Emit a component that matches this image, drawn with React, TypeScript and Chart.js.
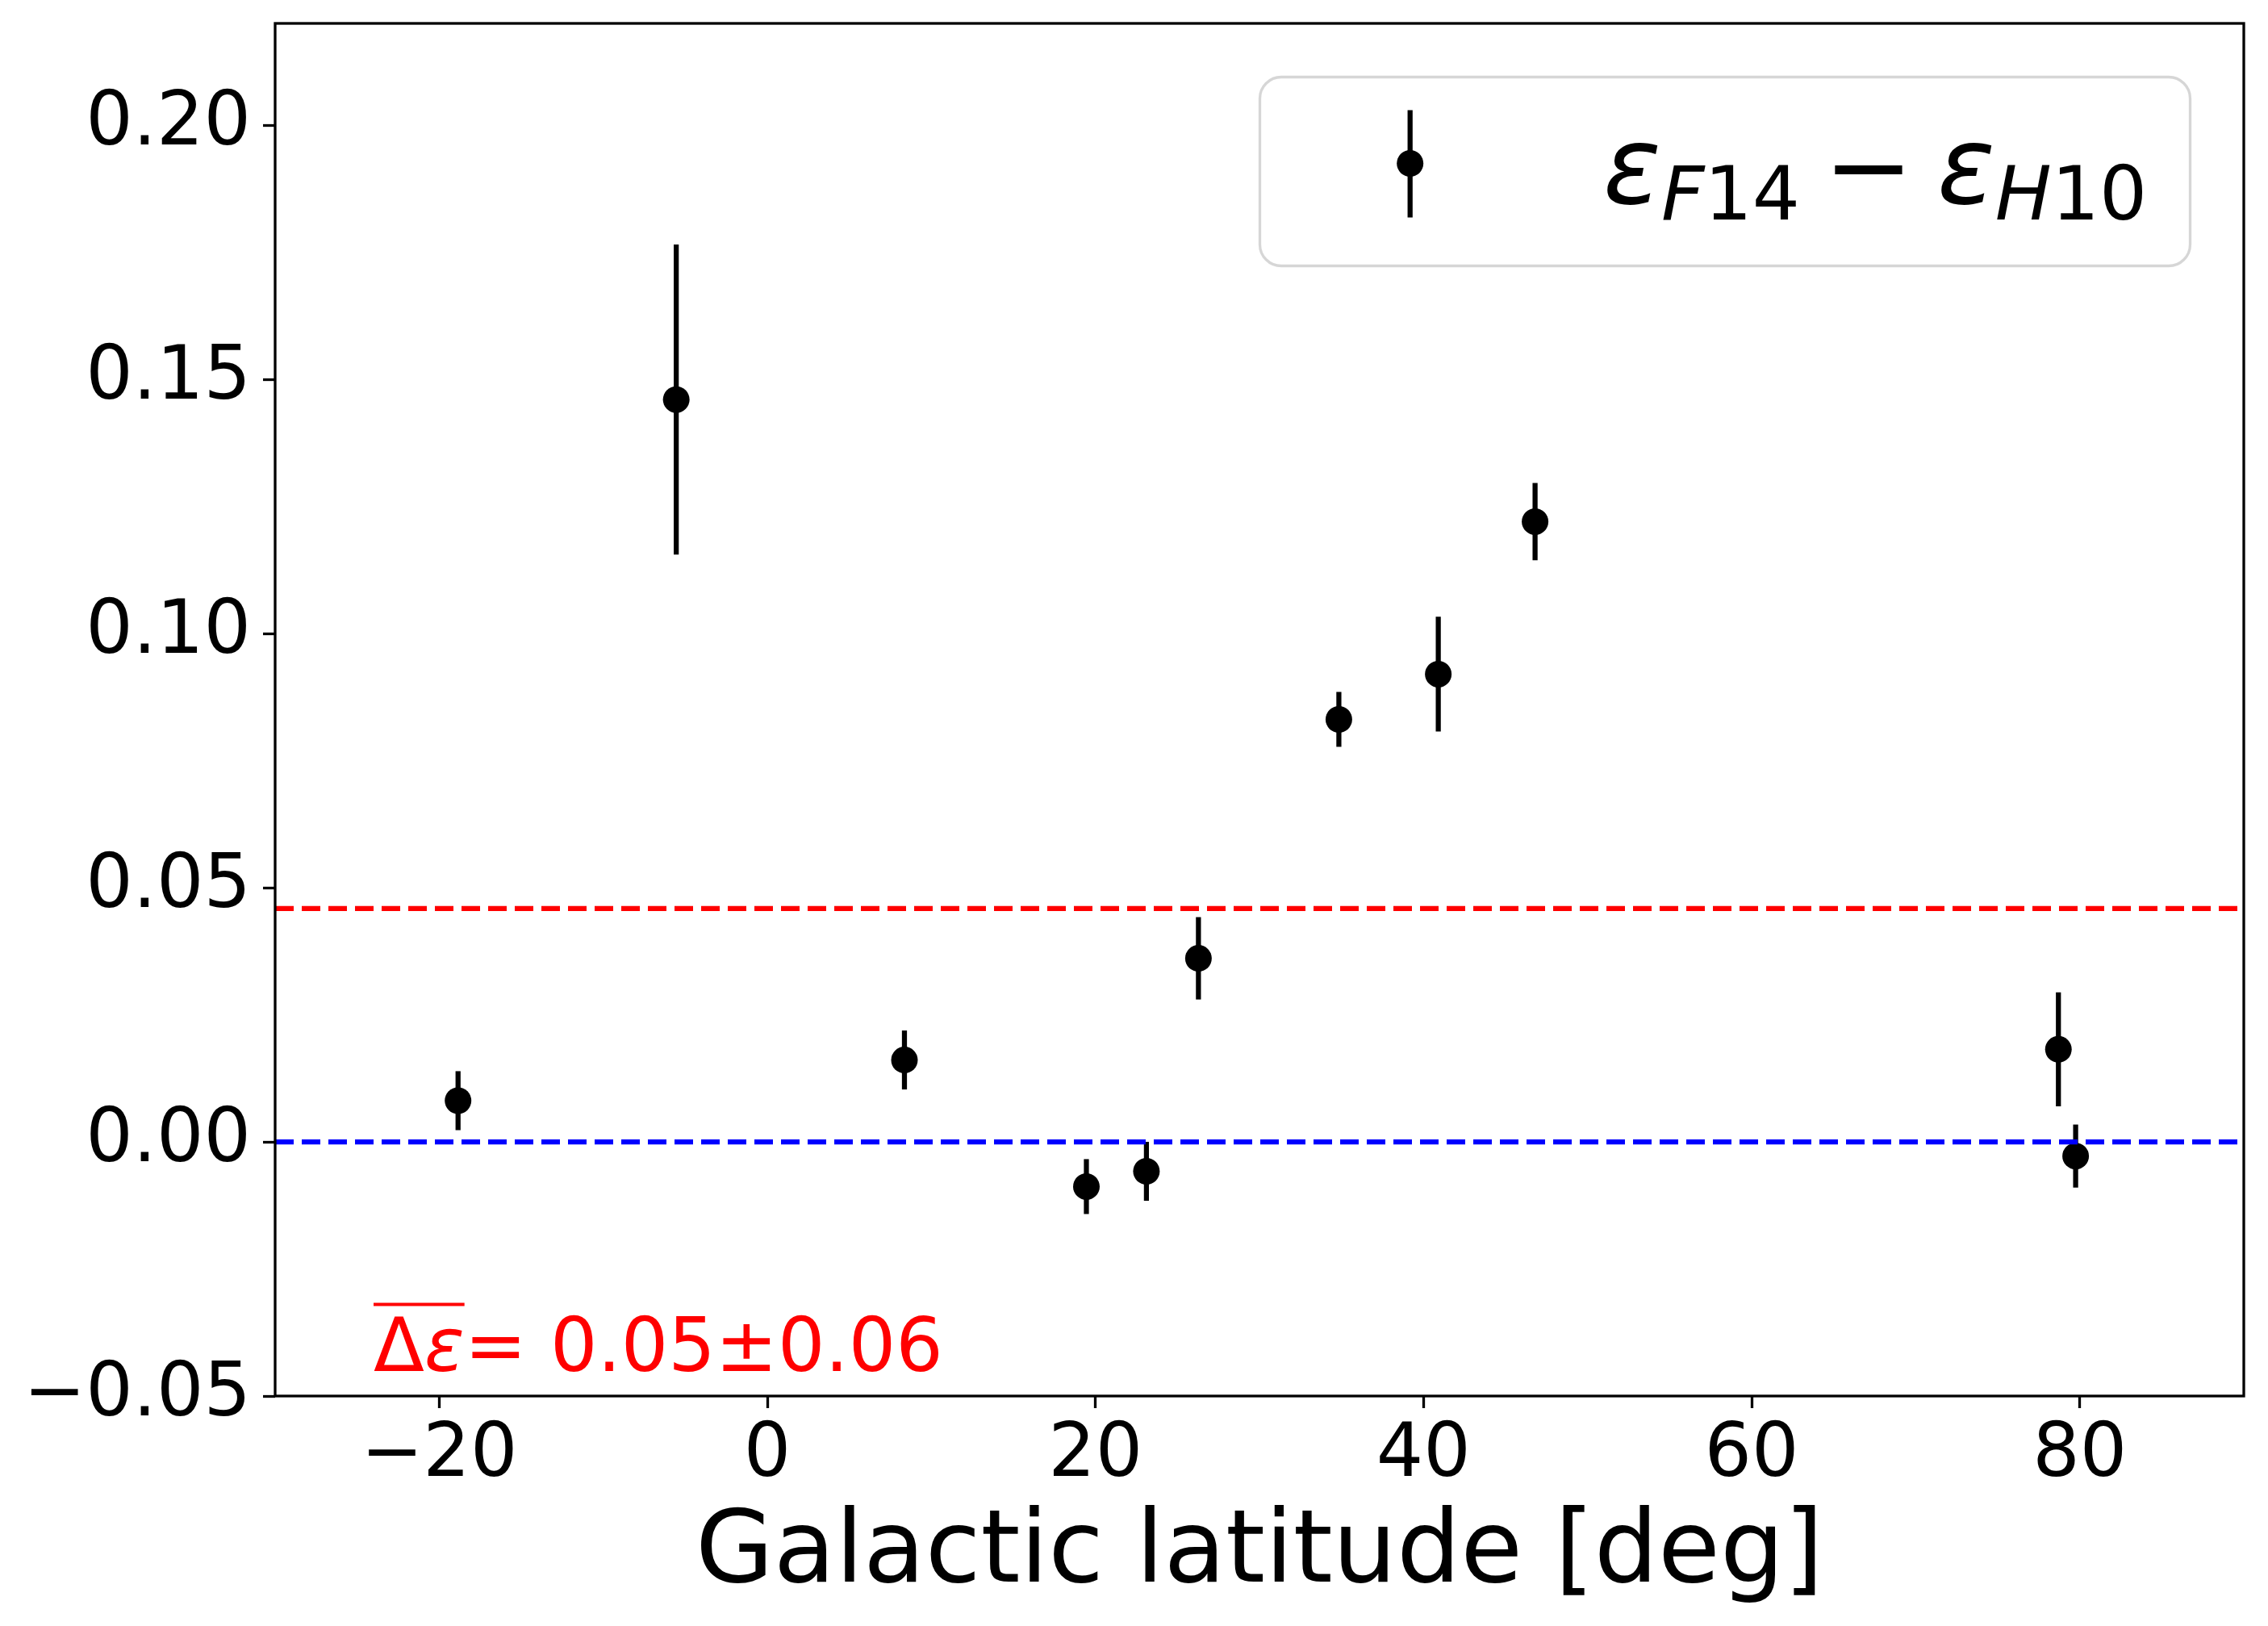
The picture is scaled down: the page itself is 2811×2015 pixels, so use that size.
import React, { useEffect, useRef } from "react";
import { Chart, registerables } from "chart.js";

Chart.register(...registerables);

// ---- data ----
const latitude = [-18.85, -5.55, 8.36, 19.45, 23.11, 26.28, 34.84, 40.9, 46.8, 78.7, 79.75];
const deltaEps = [0.0081, 0.146, 0.0161, -0.0088, -0.0058, 0.0361, 0.0831, 0.092, 0.122, 0.0182, -0.0028];
const deltaErr = [0.0058, 0.0305, 0.0058, 0.0054, 0.0058, 0.0081, 0.0054, 0.0113, 0.0076, 0.0112, 0.0062];
const meanValue = 0.0459;
const zeroValue = 0;
const xRange = [-30, 90];
const yRange = [-0.05, 0.22];
const xTicks = [-20, 0, 20, 40, 60, 80];
const yTicks = [-0.05, 0, 0.05, 0.1, 0.15, 0.2];
const xLabel = "Galactic latitude [deg]";
const annotationPos = [-24, -0.045];
const annotationMean = "0.05";
const annotationStd = "0.06";

const W = 2811;
const H = 2015;
const FAMILY = '"DejaVu Sans"';

const fmt = (v: number, d: number) => (v < 0 ? "\u2212" : "") + Math.abs(v).toFixed(d);

const overlayPlugin = {
  id: "overlay",
  beforeDatasetsDraw(chart: any) {
    const { ctx, chartArea, scales } = chart;
    const xs = scales.x;
    const ys = scales.y;
    ctx.save();
    ctx.beginPath();
    ctx.rect(chartArea.left, chartArea.top, chartArea.right - chartArea.left, chartArea.bottom - chartArea.top);
    ctx.clip();
    ctx.strokeStyle = "#000";
    ctx.lineWidth = 6.25;
    ctx.lineCap = "butt";
    latitude.forEach((lat, i) => {
      const px = xs.getPixelForValue(lat);
      ctx.beginPath();
      ctx.moveTo(px, ys.getPixelForValue(deltaEps[i] + deltaErr[i]));
      ctx.lineTo(px, ys.getPixelForValue(deltaEps[i] - deltaErr[i]));
      ctx.stroke();
    });
    ctx.restore();
  },
  afterDatasetsDraw(chart: any) {
    const { ctx, chartArea, scales } = chart;
    const xs = scales.x;
    const ys = scales.y;
    // annotation
    const ax = xs.getPixelForValue(annotationPos[0]);
    const ay = ys.getPixelForValue(annotationPos[1]);
    const fs = 92;
    ctx.save();
    ctx.fillStyle = "#ff0000";
    ctx.textBaseline = "alphabetic";
    ctx.textAlign = "left";
    let x = ax;
    ctx.font = `${fs}px ${FAMILY}`;
    ctx.fillText("\u0394", x, ay);
    x += ctx.measureText("\u0394").width;
    ctx.font = `italic ${fs}px ${FAMILY}`;
    ctx.fillText("\u03b5", x, ay);
    x += ctx.measureText("\u03b5").width;
    const overEnd = x;
    ctx.font = `${fs}px ${FAMILY}`;
    ctx.fillText("= " + annotationMean + "\u00b1" + annotationStd, x, ay);
    ctx.fillRect(ax, ay - 84, overEnd - ax, 4);
    ctx.restore();

    // spines
    ctx.save();
    ctx.strokeStyle = "#000";
    ctx.lineWidth = 3.3;
    ctx.strokeRect(chartArea.left, chartArea.top, chartArea.right - chartArea.left, chartArea.bottom - chartArea.top);
    ctx.restore();
  },
  afterDraw(chart: any) {
    const { ctx, chartArea } = chart;
    const fs = 133;
    const sub = fs * 0.7;
    const subDy = 20;
    const pieces: any[] = [
      { t: "\u03b5", font: `italic ${fs}px ${FAMILY}`, dy: 0 },
      { t: "F", font: `italic ${sub}px ${FAMILY}`, dy: subDy },
      { t: "14", font: `${sub}px ${FAMILY}`, dy: subDy },
      { gap: fs * 0.22 },
      { t: "\u2212", font: `${fs}px ${FAMILY}`, dy: 0 },
      { gap: fs * 0.22 },
      { t: "\u03b5", font: `italic ${fs}px ${FAMILY}`, dy: 0 },
      { t: "H", font: `italic ${sub}px ${FAMILY}`, dy: subDy },
      { t: "10", font: `${sub}px ${FAMILY}`, dy: subDy },
    ];
    ctx.save();
    let tw = 0;
    pieces.forEach((p) => {
      if (p.gap) { tw += p.gap; return; }
      ctx.font = p.font;
      p.w = ctx.measureText(p.t).width;
      tw += p.w;
    });
    const pad = 0.4 * fs;
    const handleLen = 2 * fs;
    const textPad = 0.8 * fs;
    const axPad = 0.5 * fs;
    const boxW = pad + handleLen + textPad + tw + pad;
    const boxH = 234;
    const right = chartArea.right - axPad;
    const top = chartArea.top + axPad;
    const left = right - boxW;
    ctx.beginPath();
    ctx.roundRect(left, top, boxW, boxH, 0.2 * fs);
    ctx.fillStyle = "rgba(255,255,255,0.8)";
    ctx.fill();
    ctx.lineWidth = 3.3;
    ctx.strokeStyle = "rgba(204,204,204,0.8)";
    ctx.stroke();

    // handle
    const hx = left + pad + handleLen / 2;
    const hy = top + boxH / 2 - 10;
    ctx.strokeStyle = "#000";
    ctx.lineWidth = 6.25;
    ctx.beginPath();
    ctx.moveTo(hx, hy - 66);
    ctx.lineTo(hx, hy + 67);
    ctx.stroke();
    ctx.fillStyle = "#000";
    ctx.beginPath();
    ctx.arc(hx, hy, 16.5, 0, Math.PI * 2);
    ctx.fill();

    // text
    const base = top + 156;
    let x = left + pad + handleLen + textPad;
    ctx.textBaseline = "alphabetic";
    ctx.textAlign = "left";
    pieces.forEach((p) => {
      if (p.gap) { x += p.gap; return; }
      ctx.font = p.font;
      ctx.fillText(p.t, x, base + p.dy);
      x += p.w;
    });
    ctx.restore();
  },
};

export default function App() {
  const ref = useRef<HTMLCanvasElement | null>(null);

  useEffect(() => {
    document.body.style.margin = "0";
    const canvas = ref.current;
    if (!canvas) return;
    const chart = new Chart(canvas, {
      type: "scatter",
      data: {
        datasets: [
          {
            type: "line",
            label: "mean",
            data: xRange.map((x) => ({ x, y: meanValue })),
            borderColor: "#ff0000",
            borderWidth: 6.25,
            borderDash: [23, 10],
            pointRadius: 0,
            fill: false,
            order: 0,
          } as any,
          {
            type: "line",
            label: "zero",
            data: xRange.map((x) => ({ x, y: zeroValue })),
            borderColor: "#0000ff",
            borderWidth: 6.25,
            borderDash: [23, 10],
            pointRadius: 0,
            fill: false,
            order: 0,
          } as any,
          {
            type: "scatter",
            label: "\u03b5F14 \u2212 \u03b5H10",
            data: latitude.map((x, i) => ({ x, y: deltaEps[i] })),
            pointRadius: 16.5,
            pointHoverRadius: 16.5,
            backgroundColor: "#000",
            borderWidth: 0,
            order: 1,
          } as any,
        ],
      },
      options: {
        responsive: false,
        animation: false,
        devicePixelRatio: 1,
        events: [],
        layout: { padding: { left: 0, top: 29, right: 30, bottom: 0 } },
        plugins: { legend: { display: false }, tooltip: { enabled: false } },
        scales: {
          x: {
            type: "linear",
            min: xRange[0],
            max: xRange[1],
            afterBuildTicks: (s: any) => {
              s.ticks = xTicks.map((value) => ({ value }));
            },
            afterFit: (s: any) => {
              s.height = 285;
              s.paddingLeft = 0;
              s.paddingRight = 0;
            },
            grid: { drawOnChartArea: false, drawTicks: true, tickLength: 15, tickWidth: 3.3, tickColor: "#000" },
            border: { display: false },
            ticks: {
              font: { family: FAMILY, size: 92, lineHeight: 1 },
              color: "#000",
              padding: 14,
              maxRotation: 0,
              autoSkip: false,
              callback: (v: any) => fmt(Number(v), 0),
            },
            title: {
              display: true,
              text: xLabel,
              color: "#000",
              font: { family: FAMILY, size: 125 },
              padding: { top: 0, bottom: 12 },
            },
          },
          y: {
            type: "linear",
            min: yRange[0],
            max: yRange[1],
            afterBuildTicks: (s: any) => {
              s.ticks = yTicks.map((value) => ({ value }));
            },
            afterFit: (s: any) => {
              s.width = 341;
              s.paddingTop = 0;
              s.paddingBottom = 0;
            },
            grid: { drawOnChartArea: false, drawTicks: true, tickLength: 15, tickWidth: 3.3, tickColor: "#000" },
            border: { display: false },
            ticks: {
              font: { family: FAMILY, size: 92, lineHeight: 1 },
              color: "#000",
              padding: 15,
              autoSkip: false,
              callback: (v: any) => fmt(Number(v), 2),
            },
          },
        },
      },
      plugins: [overlayPlugin],
    } as any);
    return () => chart.destroy();
  }, []);

  return (
    <canvas
      ref={ref}
      width={W}
      height={H}
      style={{ position: "absolute", left: 0, top: 0, width: W, height: H, background: "#fff" }}
    />
  );
}
